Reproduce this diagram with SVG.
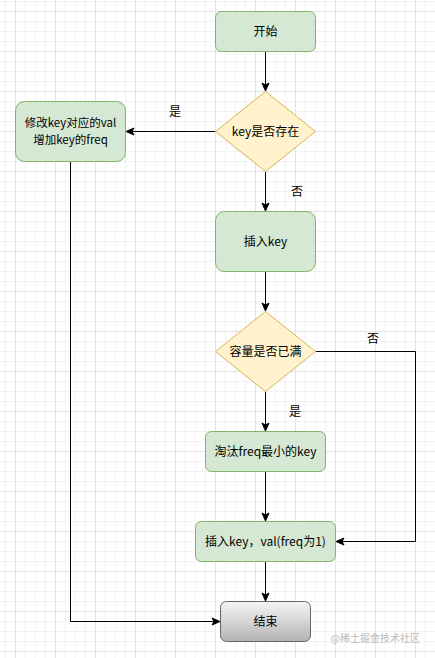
<svg xmlns="http://www.w3.org/2000/svg" width="435" height="658" viewBox="0 0 435 658">
<defs>
<pattern id="minor" x="5" y="1" width="10" height="10" patternUnits="userSpaceOnUse">
<path d="M0 0.5H10M0.5 0V10" fill="none" stroke="#f2f2f2" stroke-width="1"/>
</pattern>
<pattern id="major" x="15" y="11" width="40" height="40" patternUnits="userSpaceOnUse">
<path d="M0 0.5H40M0.5 0V40" fill="none" stroke="#e3e3e3" stroke-width="1"/>
</pattern>
<linearGradient id="grey" x1="0" y1="0" x2="0" y2="1">
<stop offset="0" stop-color="#f5f5f5"/>
<stop offset="1" stop-color="#b3b3b3"/>
</linearGradient>
<marker id="arr" markerWidth="10" markerHeight="10" refX="8" refY="5" orient="auto" markerUnits="userSpaceOnUse">
<path d="M1 1.5L9 5L1 8.5L3 5Z" fill="#000" stroke="#000" stroke-width="1"/>
</marker>
</defs>
<style>
.g{fill:#d5e8d4;stroke:#82b366;stroke-width:1}
.y{fill:#fff2cc;stroke:#d6b656;stroke-width:1}
.e{fill:url(#grey);stroke:#666666;stroke-width:1}
.t{font-family:"Noto Sans CJK SC","Liberation Sans",sans-serif;font-size:12px;fill:#000;text-anchor:middle}
.c{fill:none;stroke:#000;stroke-width:1;marker-end:url(#arr)}
</style>
<rect width="435" height="658" fill="#fff"/>
<rect width="435" height="658" fill="url(#minor)"/>
<rect width="435" height="658" fill="url(#major)"/>

<g id="connectors">
<path class="c" d="M265.5 51.5V90"/>
<path class="c" d="M215.5 131.5H127"/>
<path class="c" d="M265.5 171.5V210"/>
<path class="c" d="M265.5 271.5V310"/>
<path class="c" d="M265.5 391.5V430"/>
<path class="c" d="M265.5 471.5V520"/>
<path class="c" d="M265.5 561.5V600"/>
<path class="c" d="M315.5 351.5H415.5V541.5H337"/>
<path class="c" d="M70.5 161.5V621.5H219"/>
<text class="t" x="175" y="116">是</text>
<text class="t" x="297" y="196">否</text>
<text class="t" x="373" y="343">否</text>
<text class="t" x="295" y="416">是</text>
</g>

<g id="start">
<rect class="g" x="215.5" y="11.5" width="100" height="40" rx="6"/>
<text class="t" x="265.5" y="36">开始</text>
</g>
<g id="keyExists">
<path class="y" d="M265.5 91.5L315.5 131.5L265.5 171.5L215.5 131.5Z"/>
<text class="t" x="265.5" y="136">key是否存在</text>
</g>
<g id="update">
<rect class="g" x="15.5" y="101.5" width="110" height="60" rx="9"/>
<text class="t" style="font-size:11.5px"><tspan x="70.5" y="127">修改key对应的val</tspan><tspan x="70.5" y="144">增加key的freq</tspan></text>
</g>
<g id="insertKey">
<rect class="g" x="215.5" y="211.5" width="100" height="60" rx="9"/>
<text class="t" x="265.5" y="246">插入key</text>
</g>
<g id="full">
<path class="y" d="M265.5 311.5L315.5 351.5L265.5 391.5L215.5 351.5Z"/>
<text class="t" x="265.5" y="356">容量是否已满</text>
</g>
<g id="evict">
<rect class="g" x="205.5" y="431.5" width="120" height="40" rx="6"/>
<text class="t" x="265.5" y="456">淘汰freq最小的key</text>
</g>
<g id="insertVal">
<rect class="g" x="195.5" y="521.5" width="140" height="40" rx="6"/>
<text class="t" x="265.5" y="546">插入key，val(freq为1)</text>
</g>
<g id="end">
<rect class="e" x="220.5" y="601.5" width="90" height="40" rx="6"/>
<text class="t" x="265.5" y="626">结束</text>
</g>
<text x="420" y="642" font-family="'Noto Sans CJK SC','Liberation Sans',sans-serif" font-size="10" fill="#bdbdbd" text-anchor="end">@稀土掘金技术社区</text>
</svg>
